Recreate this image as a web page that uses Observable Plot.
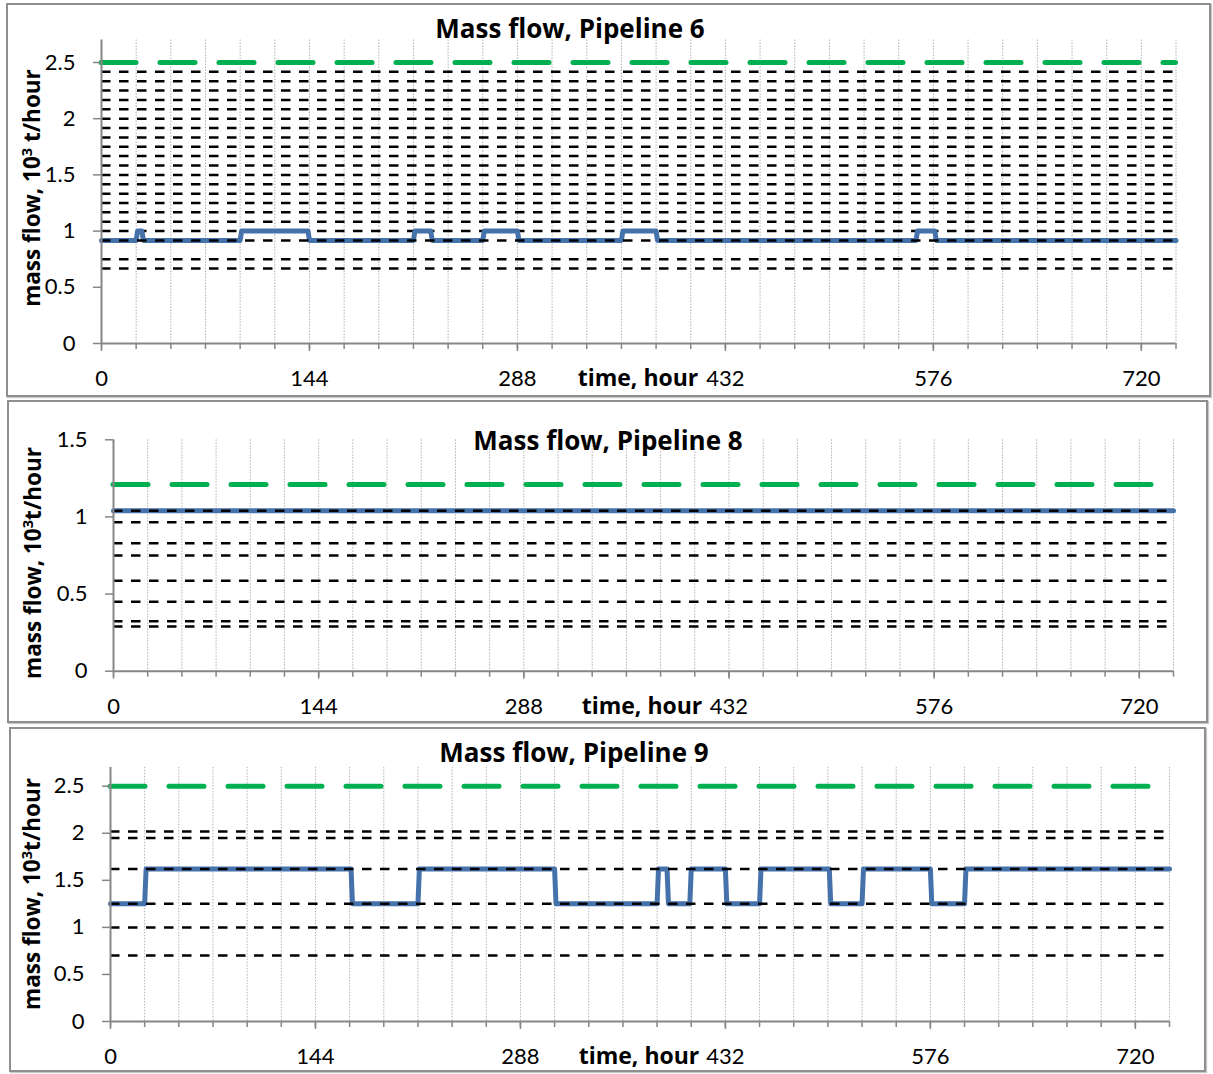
<!DOCTYPE html>
<html><head><meta charset="utf-8">
<script src="https://cdn.jsdelivr.net/npm/d3@7"></script>
<script src="https://cdn.jsdelivr.net/npm/@observablehq/plot@0.6"></script>
<style>
body{margin:0;background:#fff;font-family:Lato,sans-serif;color:#000;}
#root{position:relative;width:1213px;height:1074px;overflow:hidden;background:#fff;}
.box{position:absolute;border:2px solid #8f8f8f;box-shadow:1px 1px 1px #c8c8c8;box-sizing:border-box;}
.plot{position:absolute;left:0;}
.title{position:absolute;font-family:"Open Sans",sans-serif;font-weight:bold;font-size:26px;transform:translate(-50%,-50%);white-space:nowrap;}
.ylab{position:absolute;font-family:"Open Sans",sans-serif;font-weight:bold;font-size:22.5px;transform:translate(-50%,-50%) rotate(-90deg);white-space:nowrap;line-height:1;}
.xlab{position:absolute;font-family:"Open Sans",sans-serif;font-weight:bold;font-size:23px;transform:translate(-50%,-50%);white-space:nowrap;}
sup{font-size:0.65em;vertical-align:0.5em;line-height:0;}
</style>
</head><body>
<div id="root"></div>
<script>
// ---- data ----
const xMajor = [0, 144, 288, 432, 576, 720];
const xMinor = [0, 24, 48, 72, 96, 120, 144, 168, 192, 216, 240, 264, 288, 312, 336, 360, 384, 408, 432, 456, 480, 504, 528, 552, 576, 600, 624, 648, 672, 696, 720, 744];
const yTicksA = [0, 0.5, 1, 1.5, 2, 2.5];
const yTicksB = [0, 0.5, 1, 1.5];

const titles = ["Mass flow, Pipeline 6", "Mass flow, Pipeline 8", "Mass flow, Pipeline 9"];
const yLabels = ["mass flow, 10<sup>3</sup> t/hour", "mass flow, 10<sup>3</sup>t/hour", "mass flow, 10<sup>3</sup>t/hour"];
const xLabel = "time, hour";

const limit6 = 2.5;
const limit8 = 1.21;
const limit9 = 2.5;

const levels6 = [0.667, 0.75, 0.917, 1.083, 1.167, 1.25, 1.333, 1.417, 1.5, 1.583, 1.667, 1.75, 1.833, 1.917, 2.0, 2.083, 2.167, 2.25, 2.333, 2.417];
const levels6Under = [1.0];
const levels8 = [1.04, 0.966, 0.83, 0.75, 0.586, 0.45, 0.324, 0.29];
const levels9 = [2.02, 1.95, 1.62, 1.25, 1.0, 0.7];

const hours6 = [0, 24, 25, 28, 29, 96, 97, 143, 144, 216, 217, 228, 229, 264, 265, 288, 289, 360, 361, 384, 385, 564, 565, 577, 578, 744];
const flow6  = [0.917, 0.917, 1.0, 1.0, 0.917, 0.917, 1.0, 1.0, 0.917, 0.917, 1.0, 1.0, 0.917, 0.917, 1.0, 1.0, 0.917, 0.917, 1.0, 1.0, 0.917, 0.917, 1.0, 1.0, 0.917, 0.917];

const hours8 = [0, 744];
const flow8  = [1.04, 1.04];

const hours9 = [0, 24, 25, 169, 170, 216, 217, 312, 313, 384, 385, 391, 392, 407, 408, 432, 433, 456, 457, 505, 506, 528, 529, 576, 577, 600, 601, 744];
const flow9  = [1.25, 1.25, 1.62, 1.62, 1.25, 1.25, 1.62, 1.62, 1.25, 1.25, 1.62, 1.62, 1.25, 1.25, 1.62, 1.62, 1.25, 1.25, 1.62, 1.62, 1.25, 1.25, 1.62, 1.62, 1.25, 1.25, 1.62, 1.62];

// ---- layout ----
const root = document.getElementById("root");
const BLUE = "#4672AC", GREEN = "#00B050", AXIS = "#868686";
const dashStyle = {stroke: "#000", strokeWidth: 2.5, strokeDasharray: "9.5,8.5"};

function panel(p) {
  const box = document.createElement("div");
  box.className = "box";
  Object.assign(box.style, {left: p.bx0 + "px", top: p.by0 + "px", width: (p.bx1 - p.bx0) + "px", height: (p.by1 - p.by0) + "px"});
  root.appendChild(box);

  const H = p.by1 - p.by0;
  const data = p.hours.map((h, i) => ({h, f: p.flow[i]}));
  const chart = Plot.plot({
    width: 1213, height: H,
    marginLeft: p.x0, marginRight: 1213 - p.x1,
    marginTop: p.yTop - p.by0, marginBottom: p.by1 - p.y0,
    x: {domain: [0, 744]},
    y: {domain: [0, p.ymax]},
    style: {fontFamily: "Lato", fontSize: "22px", color: "#000", background: "transparent", overflow: "visible"},
    marks: [
      Plot.gridX(xMinor.slice(1), {stroke: "#b0b0b0", strokeOpacity: 1, strokeDasharray: "1.5,1.5"}),
      Plot.ruleY([p.limit], {stroke: GREEN, strokeWidth: 5, strokeDasharray: "35,24", strokeLinecap: "round"}),
      p.under ? Plot.ruleY(p.under, dashStyle) : null,
      Plot.line(data, {x: "h", y: "f", stroke: BLUE, strokeWidth: 5, strokeLinejoin: "round"}),
      Plot.ruleY(p.levels, dashStyle),
      Plot.ruleX([0], {stroke: AXIS, strokeWidth: 2}),
      Plot.ruleY([0], {stroke: AXIS, strokeWidth: 2}),
      Plot.axisX(xMinor, {tickSize: 6, tickFormat: () => "", stroke: AXIS, strokeWidth: 1.5, label: null}),
      Plot.axisX(xMajor, {tickSize: 8, tickPadding: 19, stroke: AXIS, strokeWidth: 1.5, label: null, tickFormat: d => String(d)}),
      Plot.axisY(p.yTicks, {tickSize: 8, tickPadding: 18, stroke: AXIS, strokeWidth: 1.5, label: null, tickFormat: d => String(d)})
    ]
  });
  chart.classList.add("plot");
  chart.style.top = p.by0 + "px";
  root.appendChild(chart);

  const t = document.createElement("div");
  t.className = "title"; t.textContent = p.title;
  Object.assign(t.style, {left: p.tx + "px", top: p.ty + "px"});
  root.appendChild(t);

  const yl = document.createElement("div");
  yl.className = "ylab"; yl.innerHTML = p.ylabel;
  Object.assign(yl.style, {left: p.ylx + "px", top: p.yly + "px"});
  root.appendChild(yl);

  const xl = document.createElement("div");
  xl.className = "xlab"; xl.textContent = xLabel;
  Object.assign(xl.style, {left: p.xlx + "px", top: (p.y0 + 34) + "px"});
  root.appendChild(xl);
}

panel({bx0: 6, by0: 3, bx1: 1211, by1: 397, x0: 101, x1: 1175.5, y0: 343, yTop: 39.5, ymax: 2.7,
  yTicks: yTicksA, limit: limit6, levels: levels6, under: levels6Under, hours: hours6, flow: flow6,
  title: titles[0], tx: 570, ty: 28, ylabel: yLabels[0], ylx: 32, yly: 188, xlx: 638});
panel({bx0: 7, by0: 400, bx1: 1208, by1: 723, x0: 113, x1: 1173, y0: 670.7, yTop: 439.3, ymax: 1.5,
  yTicks: yTicksB, limit: limit8, levels: levels8, under: null, hours: hours8, flow: flow8,
  title: titles[1], tx: 608, ty: 440, ylabel: yLabels[1], ylx: 33, yly: 563, xlx: 642});
panel({bx0: 9, by0: 727, bx1: 1206, by1: 1072, x0: 110, x1: 1169, y0: 1021, yTop: 766.9, ymax: 2.7,
  yTicks: yTicksA, limit: limit9, levels: levels9, under: null, hours: hours9, flow: flow9,
  title: titles[2], tx: 574, ty: 752, ylabel: yLabels[2], ylx: 32, yly: 894, xlx: 639});
</script>
</body></html>
